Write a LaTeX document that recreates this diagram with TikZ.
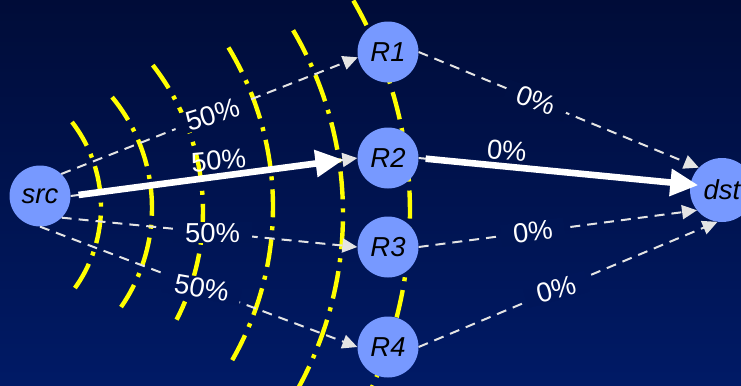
\documentclass[tikz,border=0pt]{standalone}
\usepackage{fontspec}
\setmainfont{Liberation Sans}
\usetikzlibrary{arrows.meta}
\definecolor{BgTop}{RGB}{0,12,56}
\definecolor{BgBot}{RGB}{0,26,102}
\definecolor{NodeClr}{RGB}{119,153,255}
\definecolor{WaveClr}{RGB}{255,255,0}
\definecolor{LinkClr}{RGB}{228,228,228}

\tikzset{
  router/.style={circle,fill=NodeClr,minimum size=3.05cm,inner sep=0pt,
    font=\fontsize{39}{40}\selectfont\itshape},
  wave/.style={WaveClr,line width=0.22cm,
    dash pattern=on 1.4cm off 0.45cm on 0.2cm off 0.45cm},
  link/.style={LinkClr,line width=0.1cm,dash pattern=on 0.5cm off 0.35cm,
    -{Triangle[length=0.75cm,width=0.7cm]}},
  hot/.style={white,line width=0.33cm,-{Triangle[length=1.4cm,width=1.3cm]}},
  pct/.style={text=white,font=\fontsize{39}{40}\selectfont,
    inner xsep=0.6cm,inner ysep=0.05cm,fill=BgBot!#1!BgTop},
  pctfree/.style={text=white,font=\fontsize{39}{40}\selectfont,inner sep=0.05cm}
}

\begin{document}
\begin{tikzpicture}[x=0.05cm,y=-0.05cm]

% Φόντο και όρια της εικόνας.
\useasboundingbox (0,0) rectangle (741,385);
\clip (0,0) rectangle (741,385);
\shade[top color=BgTop,bottom color=BgBot] (0,0) rectangle (741,385);

% Τα κίτρινα μέτωπα κύματος.
\draw[wave] plot[domain=-37.7:37.7,samples=40] ({-38+139*cos(\x)},{207+139*sin(\x)});
\draw[wave] plot[domain=-39.6:34.7,samples=40] ({-22+174*cos(\x)},{208+174*sin(\x)});
\draw[wave] plot[domain=-38:27.3,samples=40] ({-34+237*cos(\x)},{211+237*sin(\x)});
\draw[wave] plot[domain=-31.2:30.6,samples=50] ({-35+308*cos(\x)},{207+308*sin(\x)});
\draw[wave] plot[domain=-30.4:32,samples=50] ({-19.5+362.5*cos(\x)},{213.7+362.5*sin(\x)});
\draw[wave] plot[domain=-30:26,samples=60] ({-13+423*cos(\x)},{212+423*sin(\x)});

% Οι κόμβοι.
\node[router] (src) at (40,196) {src};
\node[router] (R1) at (388,52) {R1};
\node[router] (R2) at (388,158) {R2};
\node[router] (R3) at (388,247) {R3};
\node[router] (R4) at (388,347) {R4};
\node[router,minimum size=3.2cm] (dst) at (722,190) {dst};

% Συνδέσεις από την πηγή.
\draw[link] (src.46) -- (R1.190) node[pct=28,pos=.51,rotate=17] {50\%};
\draw[link] (src.east) -- (R2.west);
\draw[link] (src.-45) -- (R3.west) node[pct=61,pos=.51,rotate=0] {50\%};
\draw[link] (src.-90) -- (R4.west) node[pct=75,pos=.51,rotate=-10] {50\%};

% Συνδέσεις προς τον προορισμό.
\draw[link] (R1.east) -- (dst.136) node[pct=26,pos=.42,rotate=-20] {0\%};
\draw[link] (R2.east) -- (dst.170);
\draw[link] (R3.east) -- (dst.-141) node[pct=61,pos=.41,rotate=7] {0\%};
\draw[link] (R4.east) -- (dst.-98) node[pct=75,pos=.46,rotate=15] {0\%};

% Η επιλεγμένη διαδρομή.
\draw[hot,shorten <=0.4cm,shorten >=0.7cm] (src.east) -- (R2.west)
  node[pctfree,pos=.52,above=0.1cm,rotate=5] {50\%};
\draw[hot,shorten <=0.35cm,shorten >=-0.4cm] (R2.east) -- (dst.170)
  node[pctfree,pos=.32,above=0.1cm,rotate=-5] {0\%};

\end{tikzpicture}
\end{document}
